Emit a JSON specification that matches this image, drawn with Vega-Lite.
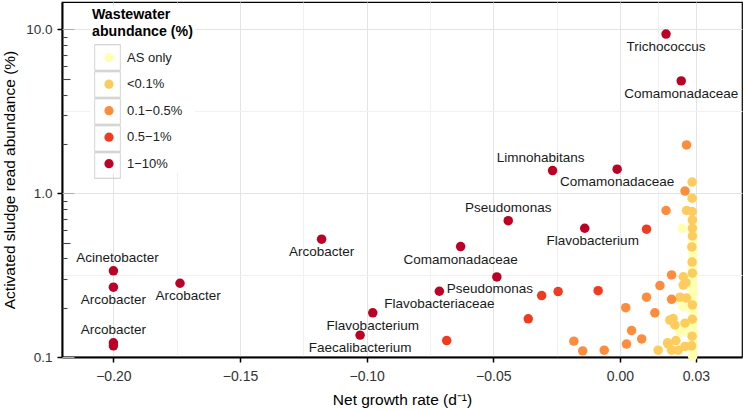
{
  "$schema": "https://vega.github.io/schema/vega-lite/v6.json",
  "width": 680,
  "height": 355,
  "autosize": {"type": "none"},
  "padding": {"left": 62, "top": 2, "right": 6, "bottom": 53},
  "background": "white",
  "config": {"view": {"stroke": "black", "strokeWidth": 1.2}, "font": "Liberation Sans"},
  "data": {"values": [
    {"x": 0.0246, "y": 0.611, "cat": "AS only"},
    {"x": 0.025, "y": 0.203, "cat": "AS only"},
    {"x": 0.0237, "y": 0.225, "cat": "AS only"},
    {"x": 0.0253, "y": 0.143, "cat": "AS only"},
    {"x": 0.0237, "y": 0.142, "cat": "AS only"},
    {"x": 0.0244, "y": 0.153, "cat": "AS only"},
    {"x": 0.0283, "y": 0.234, "cat": "AS only"},
    {"x": 0.0287, "y": 0.67, "cat": "AS only"},
    {"x": 0.0288, "y": 0.63, "cat": "AS only"},
    {"x": 0.0286, "y": 0.59, "cat": "AS only"},
    {"x": 0.0289, "y": 0.556, "cat": "AS only"},
    {"x": 0.0287, "y": 0.52, "cat": "AS only"},
    {"x": 0.0288, "y": 0.488, "cat": "AS only"},
    {"x": 0.0286, "y": 0.452, "cat": "AS only"},
    {"x": 0.0289, "y": 0.424, "cat": "AS only"},
    {"x": 0.0287, "y": 0.398, "cat": "AS only"},
    {"x": 0.0288, "y": 0.366, "cat": "AS only"},
    {"x": 0.0286, "y": 0.343, "cat": "AS only"},
    {"x": 0.0289, "y": 0.318, "cat": "AS only"},
    {"x": 0.0287, "y": 0.301, "cat": "AS only"},
    {"x": 0.0288, "y": 0.281, "cat": "AS only"},
    {"x": 0.0286, "y": 0.262, "cat": "AS only"},
    {"x": 0.0289, "y": 0.247, "cat": "AS only"},
    {"x": 0.0287, "y": 0.229, "cat": "AS only"},
    {"x": 0.0288, "y": 0.215, "cat": "AS only"},
    {"x": 0.0286, "y": 0.201, "cat": "AS only"},
    {"x": 0.0289, "y": 0.188, "cat": "AS only"},
    {"x": 0.0287, "y": 0.176, "cat": "AS only"},
    {"x": 0.0288, "y": 0.166, "cat": "AS only"},
    {"x": 0.0286, "y": 0.155, "cat": "AS only"},
    {"x": 0.0289, "y": 0.146, "cat": "AS only"},
    {"x": 0.0287, "y": 0.138, "cat": "AS only"},
    {"x": 0.0288, "y": 0.13, "cat": "AS only"},
    {"x": 0.0286, "y": 0.123, "cat": "AS only"},
    {"x": 0.0289, "y": 0.116, "cat": "AS only"},
    {"x": 0.0287, "y": 0.11, "cat": "AS only"},
    {"x": 0.0288, "y": 0.105, "cat": "AS only"},
    {"x": 0.0287, "y": 0.101, "cat": "AS only"},
    {"x": 0.0285, "y": 1.17, "cat": "<0.1%"},
    {"x": 0.0285, "y": 0.932, "cat": "<0.1%"},
    {"x": 0.0263, "y": 0.784, "cat": "<0.1%"},
    {"x": 0.0285, "y": 0.772, "cat": "<0.1%"},
    {"x": 0.0286, "y": 0.687, "cat": "<0.1%"},
    {"x": 0.0286, "y": 0.611, "cat": "<0.1%"},
    {"x": 0.0286, "y": 0.548, "cat": "<0.1%"},
    {"x": 0.0284, "y": 0.47, "cat": "<0.1%"},
    {"x": 0.0285, "y": 0.38, "cat": "<0.1%"},
    {"x": 0.0286, "y": 0.325, "cat": "<0.1%"},
    {"x": 0.025, "y": 0.309, "cat": "<0.1%"},
    {"x": 0.0261, "y": 0.284, "cat": "<0.1%"},
    {"x": 0.025, "y": 0.275, "cat": "<0.1%"},
    {"x": 0.0237, "y": 0.232, "cat": "<0.1%"},
    {"x": 0.0263, "y": 0.229, "cat": "<0.1%"},
    {"x": 0.0286, "y": 0.208, "cat": "<0.1%"},
    {"x": 0.021, "y": 0.172, "cat": "<0.1%"},
    {"x": 0.0197, "y": 0.168, "cat": "<0.1%"},
    {"x": 0.0286, "y": 0.17, "cat": "<0.1%"},
    {"x": 0.0217, "y": 0.157, "cat": "<0.1%"},
    {"x": 0.0257, "y": 0.161, "cat": "<0.1%"},
    {"x": 0.0285, "y": 0.134, "cat": "<0.1%"},
    {"x": 0.0221, "y": 0.126, "cat": "<0.1%"},
    {"x": 0.0191, "y": 0.12, "cat": "<0.1%"},
    {"x": 0.0188, "y": 0.122, "cat": "<0.1%"},
    {"x": 0.0257, "y": 0.116, "cat": "<0.1%"},
    {"x": 0.0283, "y": 0.117, "cat": "<0.1%"},
    {"x": 0.0151, "y": 0.11, "cat": "<0.1%"},
    {"x": 0.0204, "y": 0.11, "cat": "<0.1%"},
    {"x": 0.023, "y": 0.11, "cat": "<0.1%"},
    {"x": 0.0263, "y": 1.97, "cat": "0.1−0.5%"},
    {"x": 0.0257, "y": 1.03, "cat": "0.1−0.5%"},
    {"x": 0.0182, "y": 0.784, "cat": "0.1−0.5%"},
    {"x": 0.0204, "y": 0.317, "cat": "0.1−0.5%"},
    {"x": 0.0158, "y": 0.273, "cat": "0.1−0.5%"},
    {"x": 0.0105, "y": 0.232, "cat": "0.1−0.5%"},
    {"x": 0.0204, "y": 0.225, "cat": "0.1−0.5%"},
    {"x": 0.0023, "y": 0.2, "cat": "0.1−0.5%"},
    {"x": 0.0138, "y": 0.186, "cat": "0.1−0.5%"},
    {"x": 0.0046, "y": 0.145, "cat": "0.1−0.5%"},
    {"x": 0.0086, "y": 0.129, "cat": "0.1−0.5%"},
    {"x": 0.0026, "y": 0.12, "cat": "0.1−0.5%"},
    {"x": -0.0182, "y": 0.125, "cat": "0.1−0.5%"},
    {"x": -0.0147, "y": 0.109, "cat": "0.1−0.5%"},
    {"x": -0.0062, "y": 0.11, "cat": "0.1−0.5%"},
    {"x": -0.0309, "y": 0.237, "cat": "0.5−1%"},
    {"x": -0.0244, "y": 0.251, "cat": "0.5−1%"},
    {"x": -0.0086, "y": 0.254, "cat": "0.5−1%"},
    {"x": -0.0362, "y": 0.171, "cat": "0.5−1%"},
    {"x": -0.0684, "y": 0.126, "cat": "0.5−1%"},
    {"x": 0.0105, "y": 0.603, "cat": "0.5−1%"},
    {"x": 0.0182, "y": 9.36, "cat": "1−10%", "label": "Trichococcus"},
    {"x": 0.0242, "y": 4.85, "cat": "1−10%", "label": "Comamonadaceae"},
    {"x": -0.0266, "y": 1.374, "cat": "1−10%", "label": "Limnohabitans"},
    {"x": -0.0011, "y": 1.402, "cat": "1−10%", "label": "Comamonadaceae"},
    {"x": -0.0441, "y": 0.68, "cat": "1−10%", "label": "Pseudomonas"},
    {"x": -0.0139, "y": 0.611, "cat": "1−10%", "label": "Flavobacterium"},
    {"x": -0.0629, "y": 0.472, "cat": "1−10%", "label": "Comamonadaceae"},
    {"x": -0.0486, "y": 0.308, "cat": "1−10%", "label": "Pseudomonas"},
    {"x": -0.0713, "y": 0.252, "cat": "1−10%", "label": "Flavobacteriaceae"},
    {"x": -0.0976, "y": 0.186, "cat": "1−10%", "label": "Flavobacterium"},
    {"x": -0.1026, "y": 0.136, "cat": "1−10%", "label": "Faecalibacterium"},
    {"x": -0.1178, "y": 0.524, "cat": "1−10%", "label": "Arcobacter"},
    {"x": -0.1737, "y": 0.282, "cat": "1−10%", "label": "Arcobacter"},
    {"x": -0.2, "y": 0.336, "cat": "1−10%", "label": "Acinetobacter"},
    {"x": -0.2, "y": 0.267, "cat": "1−10%", "label": "Arcobacter"},
    {"x": -0.2, "y": 0.117, "cat": "1−10%"},
    {"x": -0.2, "y": 0.122, "cat": "1−10%", "label": "Arcobacter"}
  ]},
  "resolve": {"axis": {"y": "independent"}},
  "encoding": {
    "x": {
      "field": "x", "type": "quantitative",
      "scale": {"domain": [-0.2203, 0.0482], "nice": false, "zero": false},
      "axis": {
        "title": "Net growth rate (d⁻¹)",
        "values": [-0.2, -0.175, -0.15, -0.125, -0.1, -0.075, -0.05, -0.025, 0, 0.015, 0.03],
        "format": ".2f",
        "labelExpr": "(abs(datum.value*20 - round(datum.value*20)) < 0.001 || abs(datum.value - 0.03) < 0.0001) ? datum.label : ''",
        "labelFlush": false, "labelOverlap": false,
        "tickOpacity": {"condition": {"test": "abs(datum.value*20 - round(datum.value*20)) < 0.001 || abs(datum.value - 0.03) < 0.0001", "value": 1}, "value": 0},
        "gridColor": {"condition": {"test": "abs(datum.value*20 - round(datum.value*20)) < 0.001 || abs(datum.value - 0.03) < 0.0001", "value": "#e4e4e4"}, "value": "#f1f1f1"},
        "grid": true, "gridWidth": 1,
        "domainColor": "black", "domainWidth": 2,
        "tickColor": "black", "tickSize": 5, "tickWidth": 1.5,
        "labelFontSize": 14, "labelColor": "#333333", "labelPadding": 7,
        "titleFontSize": 15.5, "titleFontWeight": "normal", "titleColor": "black", "titlePadding": 9
      }
    }
  },
  "layer": [
    {
      "mark": {"type": "circle", "size": 90, "opacity": 1},
      "encoding": {
        "y": {
          "field": "y", "type": "quantitative",
          "scale": {"type": "log", "domain": [0.1, 14.7], "nice": false},
          "axis": {
            "orient": "left",
            "title": "Activated sludge read abundance (%)",
            "values": [0.1, 0.3162, 1, 3.162, 10],
            "labelExpr": "abs(log(datum.value)/LN10 - round(log(datum.value)/LN10)) < 0.001 ? format(datum.value, '.1f') : ''",
            "labelOverlap": false, "labelFlush": false,
            "tickSize": 5, "tickColor": "black", "tickWidth": 1.5,
            "tickOpacity": {"condition": {"test": "abs(log(datum.value)/LN10 - round(log(datum.value)/LN10)) < 0.001", "value": 1}, "value": 0},
            "grid": true, "gridWidth": 1,
            "gridColor": {"condition": {"test": "abs(log(datum.value)/LN10 - round(log(datum.value)/LN10)) < 0.001", "value": "#e4e4e4"}, "value": "#f1f1f1"},
            "domainColor": "black", "domainWidth": 2,
            "labelFontSize": 13.5, "labelColor": "#333333", "labelPadding": 5,
            "titleFontSize": 15.5, "titleFontWeight": "normal", "titleColor": "black", "titlePadding": 8
          }
        },
        "color": {
          "field": "cat", "type": "nominal",
          "scale": {"domain": ["AS only", "<0.1%", "0.1−0.5%", "0.5−1%", "1−10%"], "range": ["#ffffb2", "#fecc5c", "#fd8d3c", "#f03b20", "#bd0026"]},
          "legend": {
            "title": ["\u00a0\u00a0Wastewater", "abundance (%)"],
            "orient": "none", "legendX": 28, "legendY": 4,
            "titleFontSize": 14.2, "titleFontWeight": "bold", "titleColor": "black",
            "titleAnchor": "start", "titleAlign": "left", "titleLineHeight": 17, "titlePadding": 12,
            "labelFontSize": 13, "labelColor": "#222222", "labelOffset": 11.5,
            "symbolType": "circle", "symbolSize": 85, "symbolStrokeWidth": 0, "symbolOffset": 10.5,
            "rowPadding": 12.5, "fillColor": "white", "padding": 2
          }
        }
      }
    },
    {
      "mark": {"type": "point", "filled": true, "opacity": 0, "color": "#c8c8c8"},
      "encoding": {
        "y": {"field": "y", "type": "quantitative", "axis": {"orient": "left", "values": [0.2, 0.3, 0.4, 0.6, 0.7, 0.8, 0.9, 2, 3, 4, 6, 7, 8, 9], "offset": -5, "tickSize": 5, "tickColor": "#444444", "tickWidth": 1.1, "domain": false, "labels": false, "grid": false, "title": null}},
        "shape": {
          "field": "cat", "type": "nominal",
          "scale": {"domain": ["1−10%", "0.5−1%", "0.1−0.5%", "<0.1%", "AS only"], "range": [
            "M-1,-1H1V1H-1Z M-0.94,-0.94V0.94H0.94V-0.94Z",
            "M-1,-1H1V1H-1Z M-0.94,-0.94V0.94H0.94V-0.94Z",
            "M-1,-1H1V1H-1Z M-0.94,-0.94V0.94H0.94V-0.94Z",
            "M-1,-1H1V1H-1Z M-0.94,-0.94V0.94H0.94V-0.94Z",
            "M-1,-1H1V1H-1Z M-0.94,-0.94V0.94H0.94V-0.94Z"
          ]},
          "legend": {
            "title": null, "orient": "none", "legendX": 32, "legendY": 42,
            "symbolSize": 692, "symbolStrokeWidth": 0, "symbolFillColor": "#c8c8c8", "symbolOpacity": 1,
            "labelExpr": "''", "labelFontSize": 13, "symbolOffset": 0, "rowPadding": 0, "padding": 0
          }
        }
      }
    },
    {
      "transform": [{"filter": "datum.label && ((datum.label == 'Pseudomonas' && datum.x > -0.046) || (datum.label == 'Arcobacter' && datum.y < 0.13))"}],
      "mark": {"type": "text", "dy": -13, "fontSize": 13.5, "color": "#1a1a1a", "baseline": "middle", "align": "center"},
      "encoding": {
        "y": {"field": "y", "type": "quantitative", "axis": {"orient": "left", "values": [0.5, 5], "offset": -8, "tickSize": 8, "tickColor": "#444444", "tickWidth": 1.1, "domain": false, "labels": false, "grid": false, "title": null}},
        "text": {"field": "label"}
      }
    },
    {
      "transform": [{"filter": "datum.label == 'Limnohabitans'"}],
      "mark": {"type": "text", "dy": -13, "dx": -12, "fontSize": 13.5, "color": "#1a1a1a", "baseline": "middle", "align": "center"},
      "encoding": {
        "y": {"field": "y", "type": "quantitative", "axis": {"orient": "left", "values": [0.1, 1, 10], "offset": -12, "tickSize": 12, "tickColor": "#b0b0b0", "tickWidth": 1.1, "domain": false, "labels": false, "grid": false, "title": null}},
        "text": {"field": "label"}
      }
    },
    {
      "transform": [{"filter": "datum.label == 'Acinetobacter'"}],
      "mark": {"type": "text", "dy": -13, "dx": 4, "fontSize": 13.5, "color": "#1a1a1a", "baseline": "middle", "align": "center"},
      "encoding": {"y": {"field": "y", "type": "quantitative", "axis": null}, "text": {"field": "label"}}
    },
    {
      "transform": [{"filter": "(datum.label == 'Flavobacterium' && datum.x > -0.05) || (datum.label == 'Arcobacter' && datum.x > -0.19 && datum.x < -0.15)"}],
      "mark": {"type": "text", "dy": 13, "dx": 8, "fontSize": 13.5, "color": "#1a1a1a", "baseline": "middle", "align": "center"},
      "encoding": {"y": {"field": "y", "type": "quantitative", "axis": null}, "text": {"field": "label"}}
    },
    {
      "transform": [{"filter": "datum.label == 'Pseudomonas' && datum.x < -0.046"}],
      "mark": {"type": "text", "dy": 12, "dx": -7, "fontSize": 13.5, "color": "#1a1a1a", "baseline": "middle", "align": "center"},
      "encoding": {"y": {"field": "y", "type": "quantitative", "axis": null}, "text": {"field": "label"}}
    },
    {
      "transform": [{"filter": "datum.label == 'Trichococcus' || datum.label == 'Comamonadaceae' || datum.label == 'Flavobacteriaceae' || datum.label == 'Faecalibacterium' || (datum.label == 'Flavobacterium' && datum.x < -0.05) || (datum.label == 'Arcobacter' && (datum.x > -0.15 || (datum.x < -0.19 && datum.y > 0.2)))"}],
      "mark": {"type": "text", "dy": 13, "fontSize": 13.5, "color": "#1a1a1a", "baseline": "middle", "align": "center"},
      "encoding": {"y": {"field": "y", "type": "quantitative", "axis": null}, "text": {"field": "label"}}
    }
  ]
}
